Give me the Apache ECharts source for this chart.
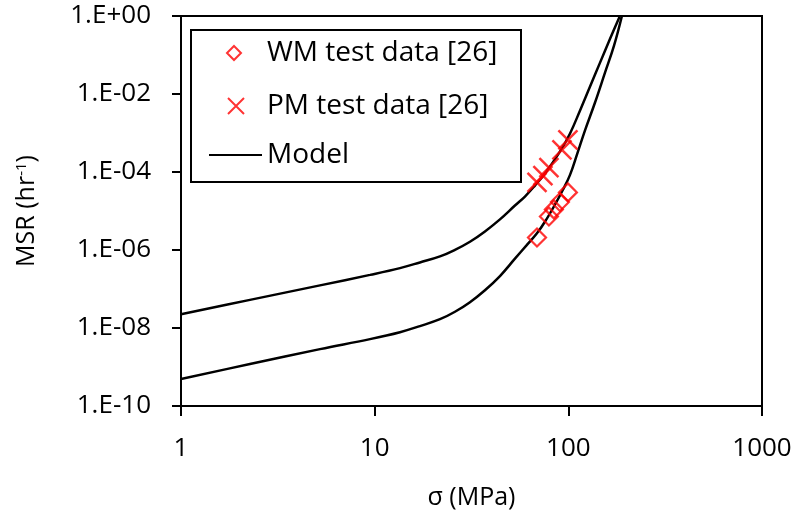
<!DOCTYPE html>
<html>
<head>
<meta charset="utf-8">
<script src="https://cdn.jsdelivr.net/npm/echarts@6/dist/echarts.min.js"></script>
<style>html,body{margin:0;padding:0;background:#fff;}#c{width:799px;height:515px;}</style>
</head>
<body>
<div id="c"></div>
<script>
// ---- data ----
const xTickLabels = ['1', '10', '100', '1000'];
const yTickLabels = ['1.E-10', '1.E-08', '1.E-06', '1.E-04', '1.E-02', '1.E+00'];

// WM test data [26]: stress (MPa), MSR (1/hr)
const wmStress = [68.9, 79.4, 84.2, 90.5, 99.5];
const wmMSR = [2.1e-6, 7.2e-6, 1.1e-5, 1.7e-5, 3.0e-5];

// PM test data [26]
const pmStress = [68.9, 73.9, 79.4, 92.7, 99.5];
const pmMSR = [5.4e-5, 8.1e-5, 1.3e-4, 3.7e-4, 6.7e-4];

// Model curve (upper, PM)
const modelPMStress = [1, 2.27, 5.22, 9.46, 13.51, 17.13, 21.74, 25.98, 31.05, 37.11, 44.36, 53.01, 59.69, 67.23, 75.71, 90.48, 101.9, 114.8, 129.3, 145.6, 164.0, 184.6];
const modelPMMSR = [2.25e-8, 5.26e-8, 1.24e-7, 2.30e-7, 3.43e-7, 4.80e-7, 6.86e-7, 1.01e-6, 1.63e-6, 3.0e-6, 6.1e-6, 1.38e-5, 2.35e-5, 4.49e-5, 9.1e-5, 3.33e-4, 9.6e-4, 3.72e-3, 1.53e-2, 6.28e-2, 0.258, 1.0];

// Model curve (lower, WM)
const modelWMStress = [1, 2.27, 5.22, 9.46, 13.51, 17.13, 21.74, 25.98, 31.05, 37.11, 44.36, 53.01, 61.13, 68.85, 75.71, 85.27, 93.78, 101.9, 110.8, 121.8, 137.2, 154.5, 172.0, 189.1];
const modelWMMSR = [4.91e-10, 1.19e-9, 2.87e-9, 5.18e-9, 7.81e-9, 1.12e-8, 1.68e-8, 2.61e-8, 4.6e-8, 9.3e-8, 2.15e-7, 6.0e-7, 1.35e-6, 2.68e-6, 5.3e-6, 1.45e-5, 3.5e-5, 8.3e-5, 2.79e-4, 1.15e-3, 5.96e-3, 3.48e-2, 0.171, 1.0];

const FONT = 'Open Sans';
const zip = (a, b) => a.map((v, i) => [v, b[i]]);

const chart = echarts.init(document.getElementById('c'), null, {renderer: 'canvas'});
chart.setOption({
  animation: false,
  backgroundColor: '#ffffff',
  textStyle: {fontFamily: FONT},
  grid: {left: 181, top: 16, width: 581, height: 390, show: true, borderColor: '#000', borderWidth: 2, containLabel: false},
  xAxis: {
    type: 'log', logBase: 10, min: 1, max: 1000,
    name: 'σ (MPa)', nameLocation: 'middle', nameGap: 79,
    nameTextStyle: {fontFamily: FONT, fontSize: 25, color: '#000'},
    axisLine: {lineStyle: {color: '#000', width: 2}},
    axisTick: {inside: false, length: 10, lineStyle: {color: '#000', width: 2}},
    axisLabel: {margin: 30, fontFamily: FONT, fontSize: 26, color: '#000',
      formatter: v => xTickLabels[Math.round(Math.log10(v))]},
    splitLine: {show: false}, minorTick: {show: false}
  },
  yAxis: {
    type: 'log', logBase: 10, min: 1e-10, max: 1, interval: 2,
    name: '{a|MSR (hr}{s|-1}{a|)}', nameLocation: 'middle', nameRotate: 90, nameGap: 142,
    nameTextStyle: {rich: {
      a: {fontFamily: FONT, fontSize: 25, color: '#000'},
      s: {fontFamily: FONT, fontSize: 15, color: '#000', verticalAlign: 'top', padding: [0, 0, 8, 0]}
    }},
    axisLine: {lineStyle: {color: '#000', width: 2}},
    axisTick: {inside: false, length: 9, lineStyle: {color: '#000', width: 2}},
    axisLabel: {margin: 30, fontFamily: FONT, fontSize: 26, color: '#000',
      formatter: v => yTickLabels[(Math.round(Math.log10(v)) + 10) / 2]},
    splitLine: {show: false}, minorTick: {show: false}
  },
  graphic: [{
    type: 'rect', left: 190, top: 29, z: 3,
    shape: {width: 330, height: 152},
    style: {fill: 'rgba(0,0,0,0)', stroke: '#000', lineWidth: 2}
  }],
  legend: [
    {data: [{name: 'WM test data [26]', icon: 'diamond'}], orient: 'vertical', left: 226, top: 39, padding: 0,
      itemWidth: 14, itemHeight: 14, textStyle: {fontFamily: FONT, fontSize: 28, color: '#000', padding: [0, 0, 0, 21]}},
    {data: [{name: 'PM test data [26]', icon: 'path://M0,0L10,10M10,0L0,10'}], orient: 'vertical', left: 227, top: 92, padding: 0,
      itemWidth: 16, itemHeight: 16, textStyle: {fontFamily: FONT, fontSize: 28, color: '#000', padding: [0, 0, 0, 18]}},
    {data: [{name: 'Model', icon: 'rect'}], orient: 'vertical', left: 209, top: 141, padding: 0,
      itemWidth: 53, itemHeight: 2, itemStyle: {color: '#000', borderWidth: 0},
      textStyle: {fontFamily: FONT, fontSize: 28, color: '#000'}}
  ],
  series: [
    {name: 'Model', type: 'line', data: zip(modelPMStress, modelPMMSR), smooth: 0.4, showSymbol: false, symbol: 'none',
      lineStyle: {color: '#000', width: 2.5}, itemStyle: {color: '#000'}, z: 2},
    {name: 'Model', type: 'line', data: zip(modelWMStress, modelWMMSR), smooth: 0.4, showSymbol: false, symbol: 'none',
      lineStyle: {color: '#000', width: 2.5}, itemStyle: {color: '#000'}, z: 2},
    {name: 'WM test data [26]', type: 'scatter', data: zip(wmStress, wmMSR), symbol: 'diamond', symbolSize: 18,
      itemStyle: {color: 'rgba(255,255,255,0)', borderColor: '#ff0000', borderWidth: 2.2}, z: 3},
    {name: 'PM test data [26]', type: 'scatter', data: zip(pmStress, pmMSR), symbol: 'path://M0,0L10,10M10,0L0,10', symbolSize: 19,
      itemStyle: {color: 'rgba(255,255,255,0)', borderColor: '#ff0000', borderWidth: 2.5}, z: 3}
  ]
});
</script>
</body>
</html>
